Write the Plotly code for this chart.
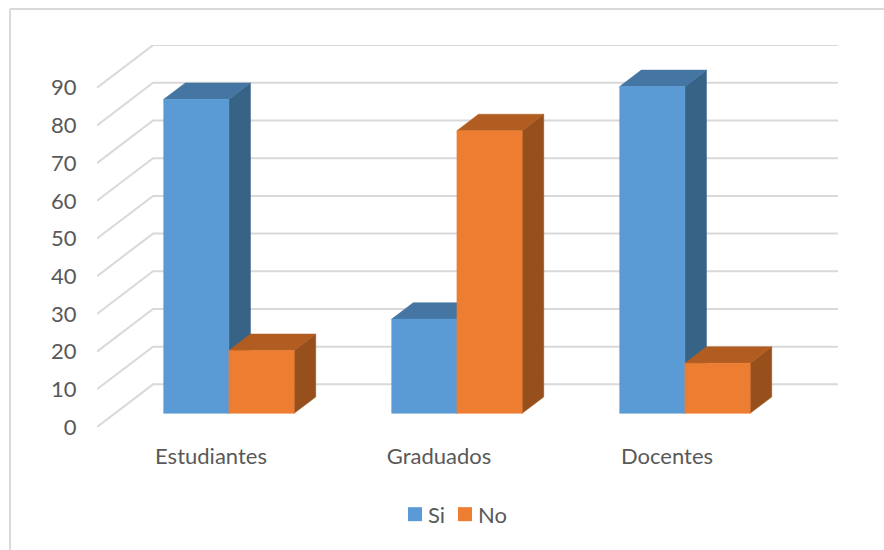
import plotly.graph_objects as go

categories = ["Estudiantes", "Graduados", "Docentes"]
si_values = [83.3, 25, 86.7]
no_values = [16.7, 75, 13.3]
y_ticks = [0, 10, 20, 30, 40, 50, 60, 70, 80, 90]

# layout geometry (pixels -> data)
W, H = 884, 550
L, R, T, B = 97, 838, 45, 426.7
X_RANGE = (R - L) / 228.0
Y_SCALE = (384.0 - 45.0) / 90.0
Y_RANGE = (B - T) / Y_SCALE
WALL_DX = 56 / 228.0
WALL_DY = 42.6 / Y_SCALE
BAR_WIDTH = 65.25 / 228.0
D_FRONT, D_BACK = 0.32, 0.705


def proj(x, y, d):
    return x + d * WALL_DX, y + d * WALL_DY


def faces(i, v, offset):
    xl = i + 0.5 + offset * BAR_WIDTH
    xr = xl + BAR_WIDTH
    corners = {
        "front": [(xl, 0, D_FRONT), (xr, 0, D_FRONT), (xr, v, D_FRONT), (xl, v, D_FRONT)],
        "side": [(xr, 0, D_FRONT), (xr, 0, D_BACK), (xr, v, D_BACK), (xr, v, D_FRONT)],
        "top": [(xl, v, D_FRONT), (xr, v, D_FRONT), (xr, v, D_BACK), (xl, v, D_BACK)],
    }
    return {k: [proj(*c) for c in pts] for k, pts in corners.items()}


def poly(values, offset, face):
    xs, ys = [], []
    for i, v in enumerate(values):
        pts = faces(i, v, offset)[face]
        pts = pts + [pts[0]]
        xs += [p[0] for p in pts] + [None]
        ys += [p[1] for p in pts] + [None]
    return xs, ys


fig = go.Figure()

# walls: gridlines
gx, gy = [], []
for t in y_ticks:
    x0, y0 = proj(0, t, 0)
    x1, y1 = proj(0, t, 1)
    gx += [x0, x1, X_RANGE, None]
    gy += [y0, y1, y1, None]
fig.add_trace(go.Scatter(x=gx, y=gy, mode="lines", line=dict(color="#D9D9D9", width=2),
                         cliponaxis=False, showlegend=False, hoverinfo="skip"))

series = [
    ("Si", si_values, -1, "#5B9BD5", "#376387", "#4475A3"),
    ("No", no_values, 0, "#ED7D31", "#97501C", "#B15D21"),
]
for name, vals, off, front, side, top in series:
    for face, col in (("side", side), ("top", top), ("front", front)):
        xs, ys = poly(vals, off, face)
        fig.add_trace(go.Scatter(x=xs, y=ys, mode="lines", fill="toself", fillcolor=col,
                                 line=dict(color=col, width=0.5), cliponaxis=False,
                                 showlegend=False, name=name, hoverinfo="skip"))
for name, vals, off, front, side, top in series:
    fig.add_trace(go.Scatter(x=[None], y=[None], mode="markers", name=name,
                             marker=dict(symbol="square", size=14, color=front)))


def px(p):
    return (p - L) / (R - L)


def py(p):
    return (B - p) / (B - T)


# chart frame: only the left and top edges fall inside the picture
for (a, b, c, d) in [(10, 10, 9, 550), (10, 884, 9, 9)]:
    fig.add_shape(type="line", xref="paper", yref="paper", x0=px(a), x1=px(b), y0=py(d), y1=py(c),
                  line=dict(color="#D9D9D9", width=2), layer="below")

font = dict(family="Lato, Carlito, sans-serif", size=22, color="#595959")
fig.update_layout(
    width=W, height=H, autosize=False,
    margin=dict(l=L, r=W - R, t=T, b=H - B, pad=0),
    paper_bgcolor="white", plot_bgcolor="white", font=font,
    hovermode=False,
    showlegend=True,
    legend=dict(orientation="h", xanchor="left", yanchor="middle",
                x=px(395), y=py(514), entrywidth=5, entrywidthmode="pixels",
                bgcolor="rgba(0,0,0,0)", font=font, traceorder="normal"),
    xaxis=dict(range=[0, X_RANGE], tickmode="array",
               tickvals=[i + 0.5 for i in range(len(categories))], ticktext=categories,
               showgrid=False, zeroline=False, showline=False, ticks="outside",
               ticklen=10, tickcolor="rgba(0,0,0,0)", tickfont=font, fixedrange=True),
    yaxis=dict(range=[0, Y_RANGE], tickmode="array", tickvals=y_ticks,
               ticktext=[str(t) for t in y_ticks],
               showgrid=False, zeroline=False, showline=False, ticks="outside",
               ticklen=15, tickcolor="rgba(0,0,0,0)", tickfont=font, fixedrange=True),
)
post = (
    "document.body.style.margin='0';"
    "document.documentElement.style.overflow='hidden';"
    "document.querySelectorAll('.legend .scrollbox').forEach(function(s){"
    "s.removeAttribute('clip-path');s.style.clipPath='none';});"
    "document.querySelectorAll('.legendtext').forEach(function(t){"
    "t.setAttribute('x', parseFloat(t.getAttribute('x')) - 7);});"
)
fig.write_html("out.html", config=dict(displayModeBar=False), post_script=post)
